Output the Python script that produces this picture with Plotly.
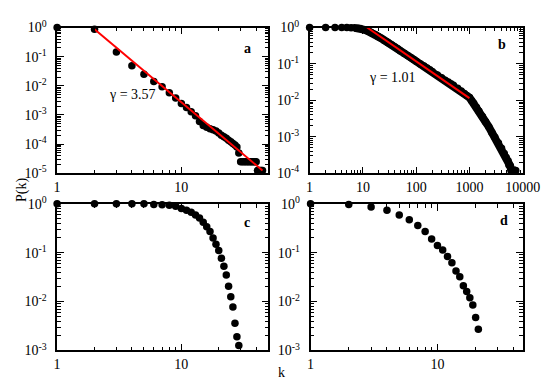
import plotly.graph_objects as go

# ---------------- data ----------------
a_k = list(range(1, 46))
a_p = [1.0, 0.88, 0.145, 0.049, 0.025, 0.014, 0.0093, 0.0058, 0.0038, 0.0025,
       0.0018, 0.0013, 0.00095, 0.0006, 0.00044, 0.00038, 0.00034, 0.00031, 0.00028, 0.00024,
       0.0002, 0.00018, 0.00016, 0.000135, 0.00012, 0.000105, 0.000093, 0.00008, 0.00005,
       2.5e-5, 2.5e-5, 2.5e-5, 2.5e-5, 2.5e-5, 2.5e-5, 2.5e-5, 2.5e-5, 2.5e-5, 2.5e-5, 2.5e-5,
       1.25e-5, 1.25e-5, 1.25e-5, 1.25e-5, 1.25e-5]
a_fit_k = [2, 45]
a_fit_p = [0.88, 1.25e-5]

b_k = [1, 2, 3, 4, 5, 6, 7, 8, 9, 10, 11, 12, 13, 14, 15, 17, 19, 20, 22, 25, 28, 30, 35, 40, 45,
       50, 60, 70, 80, 90, 100, 120, 140, 160, 180, 200, 250, 300, 350, 400, 450, 500, 600, 700,
       800, 900, 1000, 1100, 1200, 1350, 1500, 1750, 2000, 2300, 2650, 3000, 3500, 4000, 4500,
       4900, 5300, 5500, 5800, 6100, 6500, 7000, 7400]
b_p = [1.0, 1.0, 1.0, 1.0, 1.0, 0.99, 0.98, 0.97, 0.94, 0.9, 0.86, 0.82, 0.78, 0.74, 0.7, 0.64,
       0.58, 0.55, 0.51, 0.45, 0.41, 0.38, 0.33, 0.29, 0.26, 0.23, 0.195, 0.168, 0.148, 0.132,
       0.118, 0.1, 0.088, 0.078, 0.069, 0.062, 0.05, 0.042, 0.036, 0.032, 0.0285, 0.026, 0.0215,
       0.018, 0.0155, 0.0135, 0.012, 0.0098, 0.0083, 0.0065, 0.0051, 0.0036, 0.0026, 0.0019,
       0.0013, 0.00098, 0.00068, 0.00049, 0.00035, 0.00027, 0.00022, 0.00017, 0.00016, 0.00012,
       0.00012, 0.00012, 0.00012]
b_fit_k = [12, 1000]
b_fit_p = [1.0, 0.0115]

c_k = list(range(1, 30))
c_p = [1.0, 1.0, 1.0, 1.0, 1.0, 0.97, 0.95, 0.93, 0.89, 0.8, 0.74, 0.67, 0.59, 0.51, 0.42,
       0.34, 0.27, 0.2, 0.149, 0.111, 0.0766, 0.053, 0.035, 0.0205, 0.0126, 0.0077, 0.0036,
       0.0019, 0.00126]

d_k = list(range(1, 22))
d_p = [1.0, 0.97, 0.86, 0.74, 0.59, 0.47, 0.36, 0.27, 0.19, 0.14, 0.113, 0.083, 0.062, 0.042,
       0.032, 0.021, 0.016, 0.012, 0.0085, 0.0047, 0.0027]

y_labels_a = ["10<sup>0</sup>", "10<sup>-1</sup>", "10<sup>-2</sup>", "10<sup>-3</sup>", "10<sup>-4</sup>", "10<sup>-5</sup>"]
y_labels_b = y_labels_a[:5]
y_labels_cd = y_labels_a[:4]
x_labels_acd = ["1", "10"]
x_labels_b = ["1", "10", "100", "1000", "10000"]

# ---------------- figure ----------------
W, H = 550, 380
FONT = "'Liberation Serif', 'Times New Roman', 'DejaVu Serif', serif"

fig = go.Figure()

def dots(x, y, xa, ya):
    return go.Scatter(x=x, y=y, mode="markers", xaxis=xa, yaxis=ya, cliponaxis=False,
                      marker=dict(color="black", size=7.5), showlegend=False, hoverinfo="skip")

def fit(x, y, xa, ya):
    return go.Scatter(x=x, y=y, mode="lines", xaxis=xa, yaxis=ya, cliponaxis=False,
                      line=dict(color="#ff0000", width=2), showlegend=False, hoverinfo="skip")

fig.add_trace(dots(a_k, a_p, "x", "y"))
fig.add_trace(fit(a_fit_k, a_fit_p, "x", "y"))

# dense band of panel b
band_start = b_k.index(7)
fig.add_trace(go.Scatter(x=b_k[band_start:], y=b_p[band_start:], mode="lines", xaxis="x2", yaxis="y2",
                         line=dict(color="black", width=8), showlegend=False, hoverinfo="skip"))
fig.add_trace(dots(b_k, b_p, "x2", "y2"))
fig.add_trace(fit(b_fit_k, b_fit_p, "x2", "y2"))

fig.add_trace(dots(c_k, c_p, "x3", "y3"))
fig.add_trace(dots(d_k, d_p, "x4", "y4"))


def minor_vals(lo, hi):
    return [m * 10 ** e for e in range(lo, hi) for m in range(2, 10)]


def axis_common():
    return dict(type="log", showline=True, linecolor="black", linewidth=1.5, mirror="allticks",
                ticks="inside", ticklen=7, tickwidth=1, tickcolor="black", showgrid=False,
                zeroline=False, tickfont=dict(family=FONT, size=14, color="black"),
                minor=dict(ticks="inside", ticklen=4, tickwidth=1, tickcolor="black", showgrid=False))


def xaxis(domain, rng, vals, labels, lo, hi, anchor):
    d = axis_common()
    d.update(domain=domain, range=rng, tickmode="array", tickvals=vals, ticktext=labels, anchor=anchor)
    d["minor"]["tickvals"] = minor_vals(lo, hi)
    return d


def yaxis(domain, rng, labels, anchor):
    d = axis_common()
    vals = [10 ** (-i) for i in range(len(labels))]
    d.update(domain=domain, range=rng, tickmode="array", tickvals=vals, ticktext=labels, anchor=anchor,
             ticklabelstandoff=6)
    d["minor"]["tickvals"] = minor_vals(-(len(labels) - 1), 0)
    return d


def px(xp):
    return xp / W


def py(yp):
    return 1 - yp / H

fig.update_layout(
    width=W, height=H, margin=dict(l=0, r=0, t=0, b=0),
    paper_bgcolor="white", plot_bgcolor="white",
    font=dict(family=FONT, size=14, color="black"),
    xaxis=xaxis([px(47), px(267)], [0, 1.7], [1, 10], x_labels_acd, 0, 2, "y"),
    yaxis=yaxis([py(163), py(10)], [-5, 0], y_labels_a, "x"),
    xaxis2=xaxis([px(310), px(532)], [0, 4], [1, 10, 100, 1000, 10000], x_labels_b, 0, 4, "y2"),
    yaxis2=yaxis([py(163), py(10)], [-4, 0], y_labels_b, "x2"),
    xaxis3=xaxis([px(47), px(267)], [0, 1.7], [1, 10], x_labels_acd, 0, 2, "y3"),
    yaxis3=yaxis([py(349), py(195)], [-3, 0], y_labels_cd, "x3"),
    xaxis4=xaxis([px(311), px(532)], [0, 1.672], [1, 10], x_labels_acd, 0, 2, "y4"),
    yaxis4=yaxis([py(349), py(195)], [-3, 0], y_labels_cd, "x4"),
)

ann_font = dict(family=FONT, size=14, color="black")
anns = [
    ("<b>a</b>", 245, 32), ("<b>b</b>", 510, 28), ("<b>c</b>", 245, 215), ("<b>d</b>", 513, 213),
    ("γ = 3.57", 125, 80), ("γ = 1.01", 396, 62),
]
for t, x, y in anns:
    fig.add_annotation(text=t, x=px(x), y=py(y), xref="paper", yref="paper", showarrow=False,
                       font=ann_font, xanchor="center", yanchor="middle")

fig.add_annotation(text="P(k)", x=px(11), y=py(181), xref="paper", yref="paper", showarrow=False,
                   font=ann_font, textangle=-90, xanchor="center", yanchor="middle")
fig.add_annotation(text="k", x=px(281), y=py(372), xref="paper", yref="paper", showarrow=False,
                   font=ann_font, xanchor="center", yanchor="middle")

fig.write_html("out.html")
